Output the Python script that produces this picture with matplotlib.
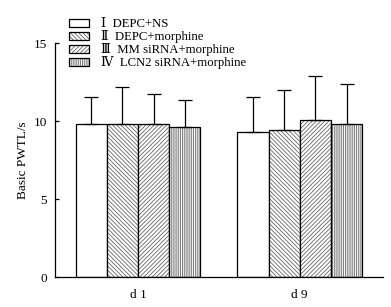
import matplotlib
matplotlib.use("Agg")
import matplotlib.pyplot as plt
from matplotlib.patches import Patch
from matplotlib.legend_handler import HandlerTuple
import numpy as np

days = ["d 1", "d 9"]
groups = ["Ⅰ  DEPC+NS", "Ⅱ  DEPC+morphine", "Ⅲ  MM siRNA+morphine", "Ⅳ  LCN2 siRNA+morphine"]
means = [[9.8, 9.3],
         [9.8, 9.45],
         [9.8, 10.05],
         [9.6, 9.8]]
sds = [[1.72, 2.22],
       [2.4, 2.52],
       [1.9, 2.86],
       [1.72, 2.54]]
hatches = ["", "\\" * 8, "/" * 8, "|" * 9]

plt.rcParams['font.family'] = ['Liberation Serif', 'DejaVu Serif']
plt.rcParams['hatch.linewidth'] = 0.6

fig = plt.figure(figsize=(3.91, 3.07), dpi=100)
ax = fig.add_axes([55/391, 30/307, 328/391, 234/307])

x = np.arange(len(days))
w = 0.193
handles = []
for i in range(4):
    pos = x + (i - 1.5) * w
    ax.bar(pos, means[i], w, color="white", hatch=hatches[i], edgecolor="#666666", linewidth=0)
    ax.bar(pos, means[i], w, color="none", edgecolor="black", linewidth=0.9)
    ax.errorbar(pos, means[i], yerr=[[0, 0], sds[i]], fmt="none", ecolor="black",
                elinewidth=0.9, capsize=4.7, capthick=0.9)
    h1 = Patch(facecolor="white", hatch=hatches[i], edgecolor="#666666", linewidth=0)
    h2 = Patch(facecolor="none", edgecolor="black", linewidth=0.9)
    handles.append((h1, h2))

ax.set_xlim(-0.514, 1.515)
ax.set_ylim(0, 15)
ax.set_yticks([0, 5, 10, 15])
ax.set_xticks(x)
ax.set_xticklabels(days)
ax.tick_params(axis="y", direction="in", length=3, width=0.9, labelsize=9.5, pad=6)
ax.tick_params(axis="x", length=0, labelsize=9.5, pad=9)
ax.spines["top"].set_visible(False)
ax.spines["right"].set_visible(False)
for s in ["left", "bottom"]:
    ax.spines[s].set_linewidth(0.9)
ax.set_ylabel("Basic PWTL/s", fontsize=9.5, labelpad=3)

ax.legend(handles, groups, handler_map={tuple: HandlerTuple(ndivide=1, pad=0)},
          loc="upper left", bbox_to_anchor=(63/391, 1 - 12/307), bbox_transform=fig.transFigure,
          frameon=False, fontsize=9.2, handlelength=1.55, handleheight=0.62,
          handletextpad=0.95, labelspacing=0.0, borderpad=0)

fig.savefig("out.png", dpi=100)
